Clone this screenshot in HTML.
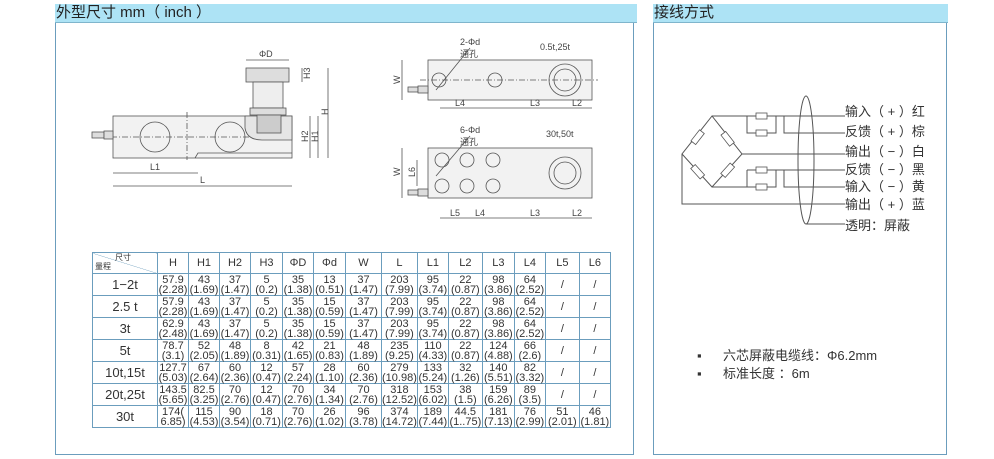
<!DOCTYPE html>
<html><head><meta charset="utf-8"><style>
body{margin:0;width:994px;height:459px;background:#fff;position:relative;overflow:hidden;font-family:"Liberation Sans","Noto Sans CJK SC",sans-serif;}
.hd{position:absolute;background:#ade3f5;height:18px;font-size:15px;line-height:18px;color:#222;border-bottom:1px solid #7fb5cc;}
.bx{position:absolute;border:1px solid #6b9dbd;border-top:none;}
table{position:absolute;left:92px;top:252px;border-collapse:collapse;font-size:11px;color:#333;}
td{border:1px solid #6b9dbd;text-align:center;padding:0;line-height:10px;}
</style></head><body>
<div class="hd" style="left:55px;top:4px;width:581px;padding-left:1px">外型尺寸 mm（ inch ）</div>
<div class="bx" style="left:55px;top:23px;width:577px;height:431px"></div>
<div class="hd" style="left:653px;top:4px;width:294px;padding-left:1px">接线方式</div>
<div class="bx" style="left:653px;top:23px;width:292px;height:431px"></div>

<svg style="position:absolute;left:0;top:0" width="994" height="459" font-family="Liberation Sans" font-size="9" fill="none" stroke="#555" stroke-width="0.8">
<!-- side view -->
<rect x="113" y="116" width="179" height="42" fill="#f2f2f2"/>
<path d="M195 158 L198 153 H292" />
<circle cx="155" cy="137" r="15"/><circle cx="230" cy="137" r="15"/>
<line x1="100" y1="137" x2="292" y2="137" stroke-dasharray="6,2,1,2"/>
<line x1="187" y1="112" x2="187" y2="160" stroke-dasharray="6,2,1,2"/>
<rect x="92" y="132" width="12" height="6" fill="#ddd"/><rect x="104" y="131" width="9" height="8" fill="#ddd"/>
<path d="M245 116 H292 V140 H262 Q247 140 245 128 Z" fill="#e5e5e5"/>
<rect x="246" y="68" width="43" height="14" fill="#ddd"/>
<rect x="253" y="82" width="30" height="26" fill="#eee"/>
<rect x="250" y="108" width="36" height="7" fill="#ddd"/>
<rect x="257" y="115" width="24" height="18" fill="#ccc"/>
<line x1="246" y1="60" x2="289" y2="60"/><text x="259" y="57" fill="#444" stroke="none">ΦD</text>
<line x1="302" y1="68" x2="302" y2="82"/><line x1="310" y1="116" x2="310" y2="158"/><line x1="318" y1="116" x2="318" y2="158"/><line x1="328" y1="68" x2="328" y2="158"/>
<text x="304" y="77" fill="#444" stroke="none" transform="rotate(-90 308 75)">H3</text>
<text x="302" y="140" fill="#444" stroke="none" transform="rotate(-90 306 138)">H2</text>
<text x="312" y="140" fill="#444" stroke="none" transform="rotate(-90 316 138)">H1</text>
<text x="322" y="113" fill="#444" stroke="none" transform="rotate(-90 326 111)">H</text>
<line x1="113" y1="173" x2="198" y2="173"/><text x="150" y="170" fill="#444" stroke="none">L1</text>
<line x1="113" y1="186" x2="292" y2="186"/><text x="200" y="183" fill="#444" stroke="none">L</text>
<!-- top right -->
<rect x="428" y="60" width="164" height="40" fill="#f2f2f2"/>
<circle cx="439" cy="80" r="7"/><circle cx="495" cy="80" r="7"/><circle cx="565" cy="80" r="16"/><circle cx="565" cy="80" r="11"/>
<line x1="420" y1="80" x2="598" y2="80" stroke-dasharray="6,2,1,2"/>
<rect x="408" y="87" width="10" height="5" fill="#ddd"/><rect x="418" y="86" width="10" height="7" fill="#ddd"/>
<line x1="402" y1="60" x2="402" y2="100"/><text x="392" y="84" fill="#444" stroke="none" transform="rotate(-90 396 80)">W</text>
<line x1="440" y1="108" x2="592" y2="108"/>
<text x="455" y="106" fill="#444" stroke="none">L4</text><text x="530" y="106" fill="#444" stroke="none">L3</text><text x="572" y="106" fill="#444" stroke="none">L2</text>
<text x="460" y="45" fill="#444" stroke="none">2-Φd</text><text x="460" y="57" fill="#444" stroke="none">通孔</text>
<text x="540" y="50" fill="#444" stroke="none">0.5t,25t</text>
<line x1="470" y1="48" x2="436" y2="90"/>
<!-- bottom right -->
<rect x="428" y="148" width="164" height="50" fill="#f2f2f2"/>
<circle cx="442" cy="160" r="7"/><circle cx="467" cy="160" r="7"/><circle cx="493" cy="160" r="7"/>
<circle cx="442" cy="186" r="7"/><circle cx="467" cy="186" r="7"/><circle cx="493" cy="186" r="7"/>
<circle cx="565" cy="173" r="16"/><circle cx="565" cy="173" r="11"/>
<rect x="408" y="190" width="10" height="5" fill="#ddd"/><rect x="418" y="189" width="10" height="7" fill="#ddd"/>
<line x1="402" y1="148" x2="402" y2="198"/><text x="392" y="176" fill="#444" stroke="none" transform="rotate(-90 396 172)">W</text>
<line x1="417" y1="160" x2="417" y2="186"/><text x="407" y="177" fill="#444" stroke="none" transform="rotate(-90 411 173)">L6</text>
<line x1="440" y1="218" x2="592" y2="218"/>
<text x="450" y="216" fill="#444" stroke="none">L5</text><text x="475" y="216" fill="#444" stroke="none">L4</text><text x="530" y="216" fill="#444" stroke="none">L3</text><text x="572" y="216" fill="#444" stroke="none">L2</text>
<text x="460" y="133" fill="#444" stroke="none">6-Φd</text><text x="460" y="145" fill="#444" stroke="none">通孔</text>
<text x="546" y="137" fill="#444" stroke="none">30t,50t</text>
<line x1="470" y1="136" x2="436" y2="176"/>
<!-- wiring -->
<g stroke="#555" stroke-width="1">
<path d="M712 116 L682 154 L712 187 L742 154 Z"/>
<path d="M712 116 H747 M747 116 V133 H776 V116 M747 116 H845 M784 116 V133 H845"/>
<path d="M712 187 H747 M747 170 V187 H776 V170 M747 170 H845 M784 170 V187 H845"/>
<path d="M742 154 H845 M682 154 V204 H845"/>
<path d="M806 224 H845"/>
<ellipse cx="806" cy="160" rx="8" ry="64"/>
</g>
<g fill="#fff" stroke="#555">
<rect x="756" y="113" width="11" height="6"/><rect x="756" y="130" width="11" height="6"/>
<rect x="756" y="167" width="11" height="6"/><rect x="756" y="184" width="11" height="6"/>
<rect x="-6" y="-3" width="14" height="6" transform="translate(697 138) rotate(-52)"/>
<rect x="-6" y="-3" width="14" height="6" transform="translate(727 138) rotate(52)"/>
<rect x="-6" y="-3" width="14" height="6" transform="translate(697 171) rotate(48)"/>
<rect x="-6" y="-3" width="14" height="6" transform="translate(727 171) rotate(-48)"/>
</g>
<g fill="#333" stroke="none" font-family="Liberation Sans,Noto Sans CJK SC,sans-serif" font-size="13">
<text x="845" y="116">输入（ + ）红</text>
<text x="845" y="136">反馈（ + ）棕</text>
<text x="845" y="156">输出（ − ）白</text>
<text x="845" y="174">反馈（ − ）黑</text>
<text x="845" y="191">输入（ − ）黄</text>
<text x="845" y="209">输出（ + ）蓝</text>
<text x="845" y="230">透明：屏蔽</text>
<text x="697" y="360">▪</text><text x="723" y="360">六芯屏蔽电缆线：Φ6.2mm</text>
<text x="697" y="378">▪</text><text x="723" y="378">标准长度 ：6m</text>
</g>
</svg>

<table>
<tr style="height:21px"><td style="width:64px;font-size:8px;position:relative;background:linear-gradient(to top right,#fff 49%,#6b9dbd 50%,#fff 51%)"><span style="position:absolute;left:22px;top:0">尺寸</span><span style="position:absolute;left:2px;bottom:1px">量程</span></td>
<td style="width:30px">H</td><td style="width:30px">H1</td><td style="width:30px">H2</td><td style="width:31px">H3</td><td style="width:30px">ΦD</td><td style="width:31px">Φd</td><td style="width:35px">W</td><td style="width:33px">L</td><td style="width:30px">L1</td><td style="width:33px">L2</td><td style="width:31px">L3</td><td style="width:30px">L4</td><td style="width:33px">L5</td><td style="width:30px">L6</td></tr>
<tr style="height:22px"><td style="font-size:13px">1−2t</td><td>57.9<br>(2.28)</td><td>43<br>(1.69)</td><td>37<br>(1.47)</td><td>5<br>(0.2)</td><td>35<br>(1.38)</td><td>13<br>(0.51)</td><td>37<br>(1.47)</td><td>203<br>(7.99)</td><td>95<br>(3.74)</td><td>22<br>(0.87)</td><td>98<br>(3.86)</td><td>64<br>(2.52)</td><td>/</td><td>/</td></tr>
<tr style="height:22px"><td style="font-size:13px">2.5 t</td><td>57.9<br>(2.28)</td><td>43<br>(1.69)</td><td>37<br>(1.47)</td><td>5<br>(0.2)</td><td>35<br>(1.38)</td><td>15<br>(0.59)</td><td>37<br>(1.47)</td><td>203<br>(7.99)</td><td>95<br>(3.74)</td><td>22<br>(0.87)</td><td>98<br>(3.86)</td><td>64<br>(2.52)</td><td>/</td><td>/</td></tr>
<tr style="height:22px"><td style="font-size:13px">3t</td><td>62.9<br>(2.48)</td><td>43<br>(1.69)</td><td>37<br>(1.47)</td><td>5<br>(0.2)</td><td>35<br>(1.38)</td><td>15<br>(0.59)</td><td>37<br>(1.47)</td><td>203<br>(7.99)</td><td>95<br>(3.74)</td><td>22<br>(0.87)</td><td>98<br>(3.86)</td><td>64<br>(2.52)</td><td>/</td><td>/</td></tr>
<tr style="height:22px"><td style="font-size:13px">5t</td><td>78.7<br>(3.1)</td><td>52<br>(2.05)</td><td>48<br>(1.89)</td><td>8<br>(0.31)</td><td>42<br>(1.65)</td><td>21<br>(0.83)</td><td>48<br>(1.89)</td><td>235<br>(9.25)</td><td>110<br>(4.33)</td><td>22<br>(0.87)</td><td>124<br>(4.88)</td><td>66<br>(2.6)</td><td>/</td><td>/</td></tr>
<tr style="height:22px"><td style="font-size:13px">10t,15t</td><td>127.7<br>(5.03)</td><td>67<br>(2.64)</td><td>60<br>(2.36)</td><td>12<br>(0.47)</td><td>57<br>(2.24)</td><td>28<br>(1.10)</td><td>60<br>(2.36)</td><td>279<br>(10.98)</td><td>133<br>(5.24)</td><td>32<br>(1.26)</td><td>140<br>(5.51)</td><td>82<br>(3.32)</td><td>/</td><td>/</td></tr>
<tr style="height:22px"><td style="font-size:13px">20t,25t</td><td>143.5<br>(5.65)</td><td>82.5<br>(3.25)</td><td>70<br>(2.76)</td><td>12<br>(0.47)</td><td>70<br>(2.76)</td><td>34<br>(1.34)</td><td>70<br>(2.76)</td><td>318<br>(12.52)</td><td>153<br>(6.02)</td><td>38<br>(1.5)</td><td>159<br>(6.26)</td><td>89<br>(3.5)</td><td>/</td><td>/</td></tr>
<tr style="height:22px"><td style="font-size:13px">30t</td><td>174(<br>6.85)</td><td>115<br>(4.53)</td><td>90<br>(3.54)</td><td>18<br>(0.71)</td><td>70<br>(2.76)</td><td>26<br>(1.02)</td><td>96<br>(3.78)</td><td>374<br>(14.72)</td><td>189<br>(7.44)</td><td>44.5<br>(1..75)</td><td>181<br>(7.13)</td><td>76<br>(2.99)</td><td>51<br>(2.01)</td><td>46<br>(1.81)</td></tr>
</table>
</body></html>
